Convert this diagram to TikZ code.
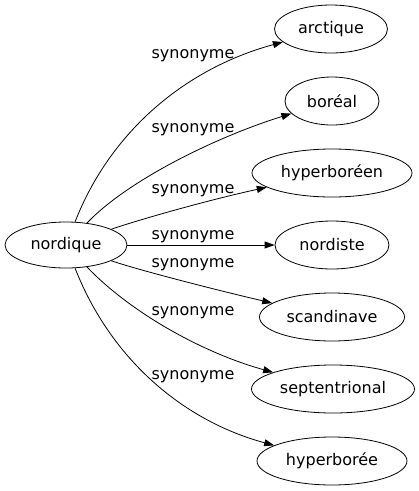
\documentclass[tikz,border=0pt]{standalone}
\usepackage{fontspec}
\setmainfont{DejaVu Sans}
\usetikzlibrary{arrows.meta,shapes.geometric}
\begin{document}
\begin{tikzpicture}[x=1pt,y=-1pt,
  every node/.style={font=\fontsize{16}{19}\selectfont},
  word/.style={draw,ellipse,line width=0.8pt,inner sep=0pt,minimum height=48pt},
  lbl/.style={anchor=base,inner sep=0pt},
  edge/.style={line width=0.8pt,-{Triangle[length=10pt,width=7pt]}}]
\useasboundingbox (0,0) rectangle (419,491);
\node[word,minimum width=122pt,minimum height=46pt] (nordique) at (66,245) {nordique};
\node[word,minimum width=113pt] (arctique) at (331,29) {arctique};
\node[word,minimum width=94pt] (boreal) at (332,101) {boréal};
\node[word,minimum width=160pt] (hyperboreen) at (332,173) {hyperboréen};
\node[word,minimum width=114pt] (nordiste) at (332,245) {nordiste};
\node[word,minimum width=145pt] (scandinave) at (332,317) {scandinave};
\node[word,minimum width=163pt] (septentrional) at (333,389) {septentrional};
\node[word,minimum width=150pt] (hyperboree) at (332,461) {hyperborée};

\draw[edge] (nordique) .. controls (111,130) and (187,68) .. (arctique);
\draw[edge] (nordique) .. controls (129,179) and (219,136) .. (boreal);
\draw[edge] (nordique) .. controls (135,221) and (204,201) .. (hyperboreen);
\draw[edge] (nordique) -- (nordiste);
\draw[edge] (nordique) .. controls (135,269) and (212,289) .. (scandinave);
\draw[edge] (nordique) .. controls (129,311) and (200,352) .. (septentrional);
\draw[edge] (nordique) .. controls (111,360) and (184,421) .. (hyperboree);

\node[lbl] (l1) at (193,58) {synonyme};
\node[lbl] (l2) at (193,132) {synonyme};
\node[lbl] (l3) at (193,193) {synonyme};
\node[lbl] (l4) at (193,239) {synonyme};
\node[lbl] (l5) at (193,267) {synonyme};
\node[lbl] (l6) at (193,315) {synonyme};
\node[lbl] (l7) at (193,379) {synonyme};
\end{tikzpicture}
\end{document}
